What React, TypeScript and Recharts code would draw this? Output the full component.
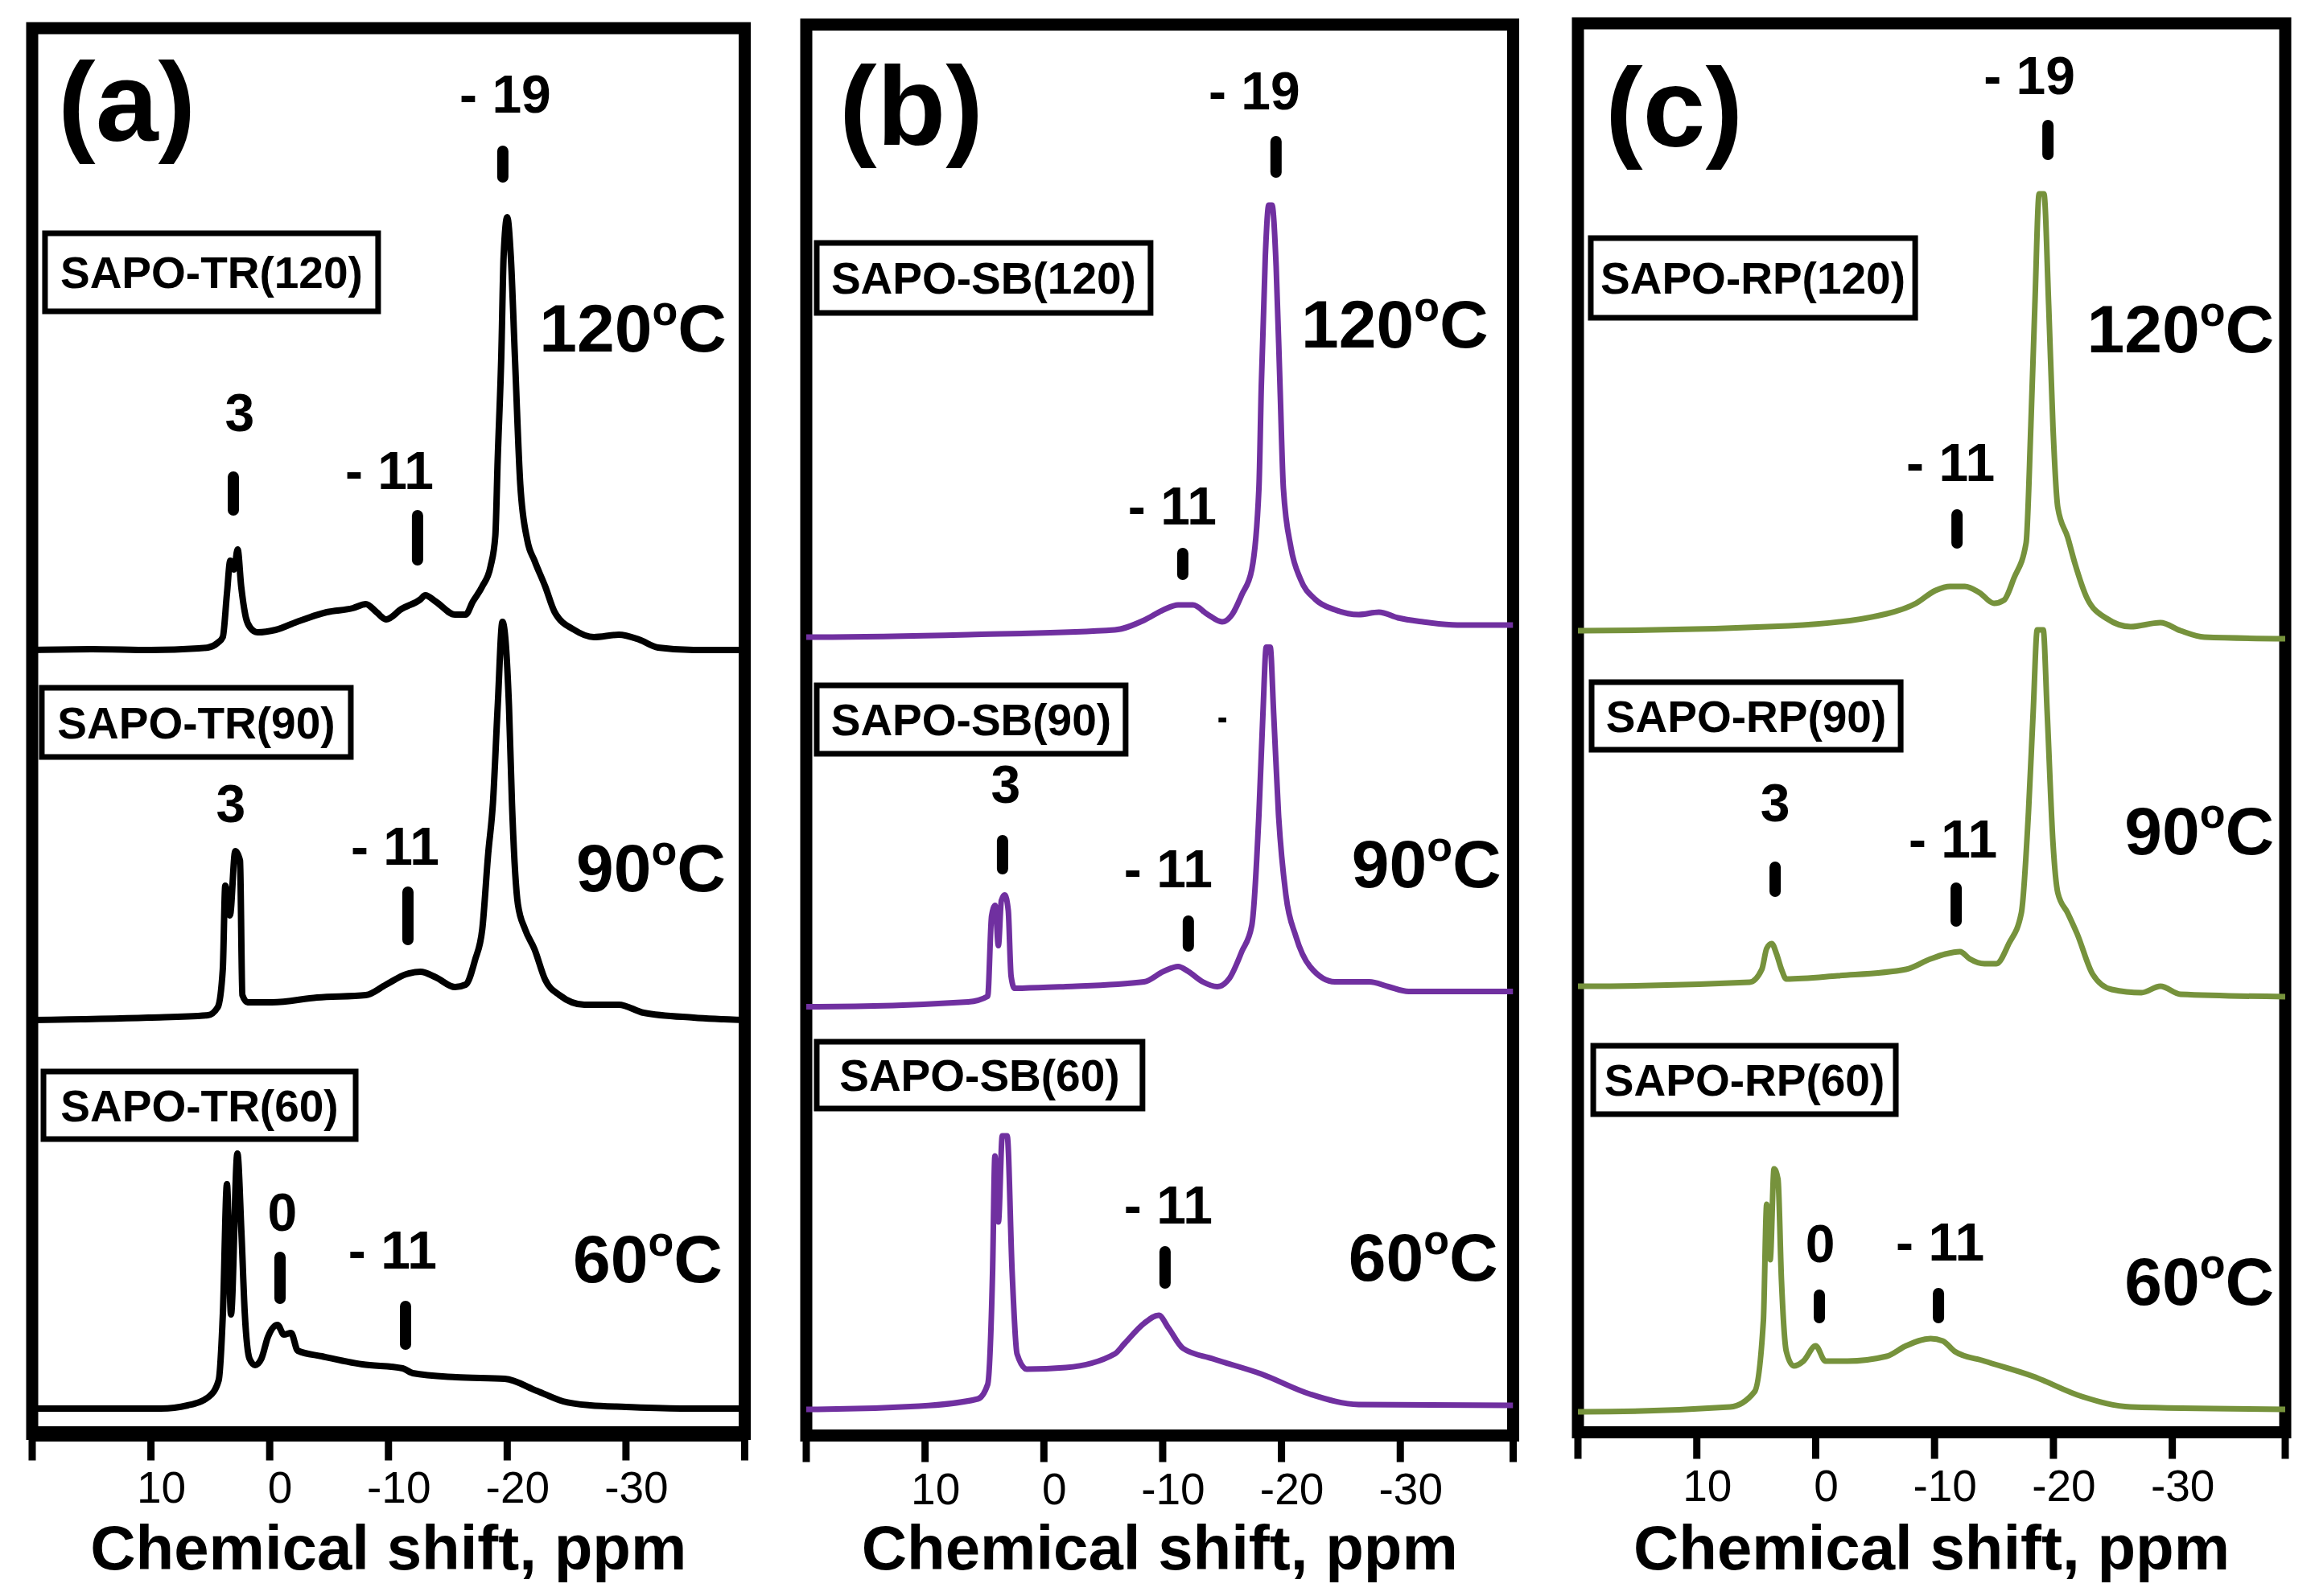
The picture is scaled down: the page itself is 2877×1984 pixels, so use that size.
import React from 'react';
import { LineChart, Line, XAxis, YAxis, ReferenceArea, ReferenceLine, ReferenceDot } from 'recharts';

const FONT = '"Liberation Sans", Arial, Helvetica, sans-serif';
const PAGE_W = 2877;
const PAGE_H = 1984;

type Pt = [number, number];

// 29Si-like spectra: [chemical shift (ppm), intensity above baseline]
const trSpec120: Pt[] = [
  [20, 0], [15, 1], [10, 0], [6, 2], [5.2, 3], [4.37, 9], [3.95, 16], [3.6, 70], [3.32, 111], [3.0, 100],
  [2.7, 125], [2.4, 79], [2.0, 40], [1.65, 28], [1.03, 22], [-0.5, 25], [-2.3, 35], [-4.8, 47], [-7.0, 52],
  [-8.1, 57], [-9.0, 47], [-9.8, 38], [-11.1, 51], [-12.7, 63], [-13.1, 68], [-14.0, 60], [-15.6, 44],
  [-16.5, 44], [-17.1, 60], [-17.9, 79], [-18.6, 104], [-19.0, 142], [-19.2, 237], [-19.5, 364],
  [-19.7, 490], [-20.0, 538], [-20.3, 490], [-20.65, 364], [-21.1, 206], [-21.7, 136], [-22.3, 111],
  [-23.2, 79], [-24.0, 47], [-25.65, 25], [-27.3, 16], [-29.4, 19], [-31.1, 13], [-32.7, 3], [-35.7, 0], [-40, 0],
];
const trSpec90: Pt[] = [
  [20, 0], [10.2, 3], [5.2, 6], [4.37, 16], [3.95, 63], [3.74, 167], [3.35, 130], [2.9, 210], [2.5, 198],
  [2.3, 31], [1.86, 22], [-0.2, 22], [-4.0, 28], [-8.1, 31], [-9.8, 44], [-11.5, 57], [-12.7, 60], [-14.0, 53],
  [-15.6, 41], [-16.5, 44], [-17.3, 75], [-17.9, 113], [-18.4, 207], [-18.8, 270], [-19.2, 390], [-19.6, 495],
  [-20.15, 390], [-20.4, 270], [-20.9, 144], [-21.5, 113], [-22.3, 88], [-23.2, 50], [-24.4, 31], [-26.5, 19],
  [-29.4, 19], [-31.5, 9], [-35.7, 3], [-40, 0],
];
const trSpec60: Pt[] = [
  [20, 0], [9.16, 0], [6.9, 4], [5.1, 15], [4.3, 35], [3.94, 119], [3.6, 279], [3.26, 117], [2.72, 317],
  [2.38, 219], [2.1, 119], [1.7, 62], [1.23, 54], [0.7, 62], [0.15, 89], [-0.66, 104], [-1.2, 92], [-1.8, 94],
  [-2.36, 72], [-4.4, 65], [-7.8, 55], [-11.2, 50], [-12.05, 44], [-15.7, 39], [-19.8, 37], [-22.5, 22],
  [-24.7, 9], [-27, 4], [-30, 2], [-35, 0], [-40, 0],
];

const sbSpec120: Pt[] = [
  [20, 0], [19.55, 0], [6.38, 3], [-5.97, 9], [-8.44, 21], [-10.08, 34], [-11.3, 40], [-12.55, 40], [-13.8, 28],
  [-15.0, 19], [-15.84, 28], [-16.67, 53], [-17.5, 84], [-18.1, 185], [-18.3, 311], [-18.64, 474], [-18.93, 537],
  [-19.2, 537], [-19.55, 461], [-19.88, 310], [-20.16, 185], [-20.8, 111], [-21.6, 72], [-22.84, 47], [-24.5, 34],
  [-26.5, 28], [-28.2, 31], [-29.8, 24], [-31.9, 19], [-34.8, 15], [-39.5, 15],
];
const sbSpec90: Pt[] = [
  [20, 0], [19.55, 0], [6.38, 6], [4.73, 13], [4.4, 113], [4.1, 126], [3.83, 76], [3.58, 132], [3.29, 139],
  [3.0, 120], [2.76, 38], [2.47, 23], [-1.85, 25], [-8.44, 31], [-10.08, 44], [-11.3, 50], [-12.14, 44],
  [-13.37, 31], [-14.6, 25], [-15.6, 35], [-16.67, 69], [-17.5, 101], [-18.1, 239], [-18.44, 365], [-18.72, 447],
  [-19.05, 447], [-19.34, 365], [-19.75, 239], [-20.37, 139], [-21.2, 88], [-22.4, 50], [-24.5, 31], [-27.4, 31],
  [-29.0, 25], [-30.7, 19], [-39.5, 19],
];
const sbSpec60: Pt[] = [
  [20, 0], [19.55, 0], [10.5, 4], [5.56, 13], [4.73, 31], [4.32, 170], [4.12, 315], [3.83, 233], [3.5, 340],
  [3.09, 340], [2.67, 170], [2.26, 69], [1.44, 50], [-1.85, 52], [-5.97, 69], [-6.8, 82], [-8.44, 107],
  [-9.67, 117], [-10.5, 101], [-11.7, 76], [-14.2, 63], [-18.3, 44], [-22.4, 19], [-26.5, 6], [-39.5, 5],
];

const rpSpec120: Pt[] = [
  [20, 0], [19.55, 0], [2.26, 6], [-5.97, 21], [-8.44, 34], [-10.08, 50], [-11.3, 55], [-12.55, 55], [-13.8, 47],
  [-15.0, 34], [-15.84, 38], [-16.67, 65], [-17.7, 109], [-18.1, 254], [-18.44, 405], [-18.8, 543], [-19.2, 543],
  [-19.6, 405], [-19.96, 254], [-20.37, 153], [-21.2, 116], [-21.8, 84], [-22.84, 40], [-24.5, 15], [-26.5, 5],
  [-29.0, 10], [-30.7, 0], [-32.7, -8], [-39.5, -10],
];
const rpSpec90: Pt[] = [
  [20, 0], [19.55, 0], [5.56, 5], [4.53, 21], [4.12, 47], [3.7, 53], [3.29, 40], [2.88, 21], [2.47, 9],
  [-1.85, 13], [-7.6, 21], [-9.67, 34], [-10.9, 40], [-12.14, 43], [-12.96, 34], [-14.2, 28], [-15.2, 28],
  [-16.25, 53], [-17.3, 91], [-17.9, 216], [-18.3, 342], [-18.64, 443], [-19.14, 443], [-19.47, 342],
  [-19.96, 179], [-20.37, 116], [-21.2, 91], [-22.0, 65], [-23.3, 15], [-24.9, -4], [-27.4, -8], [-29.0, 0],
  [-30.7, -10], [-39.5, -13],
];
const rpSpec60: Pt[] = [
  [20, 0], [19.55, 0], [7.2, 6], [5.14, 25], [4.4, 113], [4.12, 258], [3.83, 189], [3.5, 302], [3.17, 289],
  [2.88, 164], [2.47, 75], [1.85, 57], [1.03, 63], [0, 82], [-0.82, 63], [-2.67, 63], [-5.97, 69], [-7.6, 82],
  [-9.67, 91], [-10.7, 88], [-11.7, 75], [-14.2, 63], [-18.3, 44], [-22.4, 19], [-26.5, 6], [-39.5, 3],
];

const tickLabels = [10, 0, -10, -20, -30];
const temps = ['120', '90', '60'];
const trNames = ['SAPO-TR(120)', 'SAPO-TR(90)', 'SAPO-TR(60)'];
const sbNames = ['SAPO-SB(120)', 'SAPO-SB(90)', 'SAPO-SB(60)'];
const rpNames = ['SAPO-RP(120)', 'SAPO-RP(90)', 'SAPO-RP(60)'];

// ---- layout (all in ppm / stacked-intensity units of each panel) ----
type Box = [number, number, number, number];
type Note = { text: string; x: number; y: number };
type Bar = [number, number, number];

interface PanelCfg {
  letter: string;
  letterAt: [number, number];
  color: string;
  lineW: number;
  domain: [number, number];
  plotLeft: number;
  plotRight: number;
  plotTop: number;
  plotBottom: number;
  axisW: number;
  spectra: Pt[][];
  offsets: number[];
  names: string[];
  boxes: Box[];
  tempAt: [number, number][];
  notes: Note[];
  bars: Bar[];
  specks?: [number, number, number][];
}

const panels: PanelCfg[] = [
  {
    letter: '(a)', letterAt: [17.83, 1607.5], color: '#000000', lineW: 8,
    domain: [-40, 20], plotLeft: 40, plotRight: 925.5, plotTop: 35, plotBottom: 1782.5, axisW: 19,
    spectra: [trSpec120, trSpec90, trSpec60], offsets: [974.5, 514.5, 31.5], names: trNames,
    boxes: [[18.92, -9.13, 1492.5, 1395.5], [19.19, -6.83, 927.5, 841.5], [19.05, -7.24, 450.5, 366.5]],
    tempAt: [[-38.47, 1345.5], [-38.4, 674.5], [-38.13, 188.5]],
    notes: [
      { text: '- 19', x: -19.84, y: 1642.5 }, { text: '3', x: 2.52, y: 1246.5 }, { text: '- 11', x: -10.08, y: 1174.5 },
      { text: '3', x: 3.27, y: 760.5 }, { text: '- 11', x: -10.56, y: 707.5 },
      { text: '0', x: -1.07, y: 252.5 }, { text: '- 11', x: -10.35, y: 205.5 },
    ],
    bars: [[-19.63, 1594.5, 1562.5], [3.06, 1189.5, 1148.5], [-12.45, 1141.5, 1086.5], [-11.64, 673.5, 614.5],
      [-0.87, 219.5, 168.5], [-11.44, 158.5, 111.5]],
  },
  {
    letter: '(b)', letterAt: [17.22, 1604.5], color: '#7030a0', lineW: 7,
    domain: [-39.5, 20], plotLeft: 1002, plotRight: 1880.5, plotTop: 30.5, plotBottom: 1784.5, axisW: 15,
    spectra: [sbSpec120, sbSpec90, sbSpec60], offsets: [992.5, 533, 32.5], names: sbNames,
    boxes: [[19.12, -8.98, 1482.5, 1395.5], [19.12, -6.88, 932.5, 847.5], [19.12, -8.3, 489.5, 406.5]],
    tempAt: [[-37.41, 1352.5], [-38.5, 681.5], [-38.23, 192.5]],
    notes: [
      { text: '- 19', x: -17.71, y: 1648.5 }, { text: '- 11', x: -10.81, y: 1132.5 },
      { text: '3', x: 3.21, y: 786.5 }, { text: '- 11', x: -10.47, y: 681.5 },
      { text: '- 11', x: -10.47, y: 263.5 },
    ],
    bars: [[-19.54, 1608.5, 1570.5], [-11.69, 1096.5, 1070.5], [3.48, 739.5, 704.5], [-12.16, 639.5, 608.5],
      [-10.2, 228.5, 189.5]],
    specks: [[-14.7, -15.35, 889.5]],
  },
  {
    letter: '(c)', letterAt: [17.7, 1598.5], color: '#76923c', lineW: 7,
    domain: [-39.5, 20], plotLeft: 1961, plotRight: 2840, plotTop: 29, plotBottom: 1780.5, axisW: 15,
    spectra: [rpSpec120, rpSpec90, rpSpec60], offsets: [996.5, 554.5, 25.5], names: rpNames,
    boxes: [[18.92, -8.37, 1484.5, 1385.5], [18.85, -7.15, 932.5, 848.5], [18.71, -6.74, 480.5, 395.5]],
    tempAt: [[-38.56, 1342.5], [-38.56, 718.5], [-38.56, 158.5]],
    notes: [
      { text: '- 19', x: -17.98, y: 1663.5 }, { text: '- 11', x: -11.35, y: 1182.5 },
      { text: '3', x: 3.41, y: 759.5 }, { text: '- 11', x: -11.55, y: 714.5 },
      { text: '0', x: -0.38, y: 211.5 }, { text: '- 11', x: -10.47, y: 213.5 },
    ],
    bars: [[-19.54, 1624.5, 1588.5], [-11.89, 1140.5, 1105.5], [3.41, 702.5, 672.5], [-11.82, 676.5, 635.5],
      [-0.31, 170.5, 142.5], [-10.33, 172.5, 142.5]],
  },
];

const textShape = (text: string, anchor: 'start' | 'middle' | 'end', size: number) => (props: any) => (
  <text x={props.cx} y={props.cy} textAnchor={anchor} fontSize={size} fontWeight="bold" fontFamily={FONT} fill="#000">
    {text}
  </text>
);

const tempShape = (t: string) => (props: any) => (
  <text x={props.cx} y={props.cy} textAnchor="end" fontSize={84} fontWeight="bold" fontFamily={FONT} fill="#000">
    {t}
    <tspan fontSize={52} dy={-33}>o</tspan>
    <tspan dy={33}>C</tspan>
  </text>
);

const Panel: React.FC<{ p: PanelCfg }> = ({ p }) => {
  const plotW = p.plotRight - p.plotLeft;
  const yMax = p.plotBottom - p.plotTop;
  const ticks = [p.domain[1], ...tickLabels, p.domain[0]];
  return (
    <div style={{ position: 'absolute', left: p.plotLeft - 40, top: 0 }}>
      <LineChart width={plotW + 80} height={PAGE_H} margin={{ top: p.plotTop, right: 40, left: 40, bottom: 0 }}>
        <XAxis
          type="number"
          dataKey="ppm"
          domain={p.domain}
          reversed
          allowDataOverflow
          ticks={ticks}
          interval={0}
          height={PAGE_H - p.plotBottom}
          stroke="#000"
          axisLine={{ stroke: '#000', strokeWidth: p.axisW }}
          tickLine={{ stroke: '#000', strokeWidth: 9 }}
          tickSize={33}
          tickMargin={13}
          tick={{ fill: '#000', fontSize: 55, fontFamily: FONT, dx: 13 }}
          tickFormatter={(v: number) => (tickLabels.includes(v) ? String(v) : '')}
          label={{
            value: 'Chemical shift, ppm', position: 'insideBottom', offset: 33,
            fill: '#000', fontSize: 78, fontWeight: 'bold', fontFamily: FONT,
          }}
        />
        <YAxis type="number" domain={[0, yMax]} hide width={0} allowDataOverflow />
        <ReferenceArea x1={p.domain[1]} x2={p.domain[0]} y1={0} y2={yMax} fill="none" stroke="#000" strokeWidth={15} />
        {p.spectra.map((s, i) => (
          <Line
            key={p.names[i]}
            name={p.names[i]}
            data={s.map(([ppm, h]) => ({ ppm, v: h + p.offsets[i] }))}
            dataKey="v"
            type="monotone"
            stroke={p.color}
            strokeWidth={p.lineW}
            strokeLinejoin="round"
            dot={false}
            activeDot={false}
            isAnimationActive={false}
          />
        ))}
        {p.boxes.map((b, i) => (
          <ReferenceArea
            key={'box' + i}
            x1={b[0]}
            x2={b[1]}
            y1={b[3]}
            y2={b[2]}
            fill="#fff"
            fillOpacity={1}
            stroke="#000"
            strokeWidth={7}
            label={{ value: p.names[i], position: 'center', fill: '#000', fontSize: 55, fontWeight: 'bold', fontFamily: FONT }}
          />
        ))}
        {p.bars.map((b, i) => (
          <ReferenceLine
            key={'bar' + i}
            segment={[{ x: b[0], y: b[1] }, { x: b[0], y: b[2] }]}
            stroke="#000"
            strokeWidth={14}
            strokeLinecap="round"
          />
        ))}
        {(p.specks || []).map((s, i) => (
          <ReferenceLine
            key={'speck' + i}
            segment={[{ x: s[0], y: s[2] }, { x: s[1], y: s[2] }]}
            stroke="#000"
            strokeWidth={6}
          />
        ))}
        {p.notes.map((n, i) => (
          <ReferenceDot key={'note' + i} x={n.x} y={n.y} r={0} shape={textShape(n.text, 'middle', 66)} />
        ))}
        {p.tempAt.map((t, i) => (
          <ReferenceDot key={'temp' + i} x={t[0]} y={t[1]} r={0} shape={tempShape(temps[i])} />
        ))}
        <ReferenceDot x={p.letterAt[0]} y={p.letterAt[1]} r={0} shape={textShape(p.letter, 'start', 140)} />
      </LineChart>
    </div>
  );
}

export default function App() {
  return (
    <div style={{ position: 'absolute', left: 0, top: 0, width: PAGE_W, height: PAGE_H, background: '#fff', overflow: 'hidden' }}>
      {panels.map((p) => (
        <Panel key={p.letter} p={p} />
      ))}
    </div>
  );
}
